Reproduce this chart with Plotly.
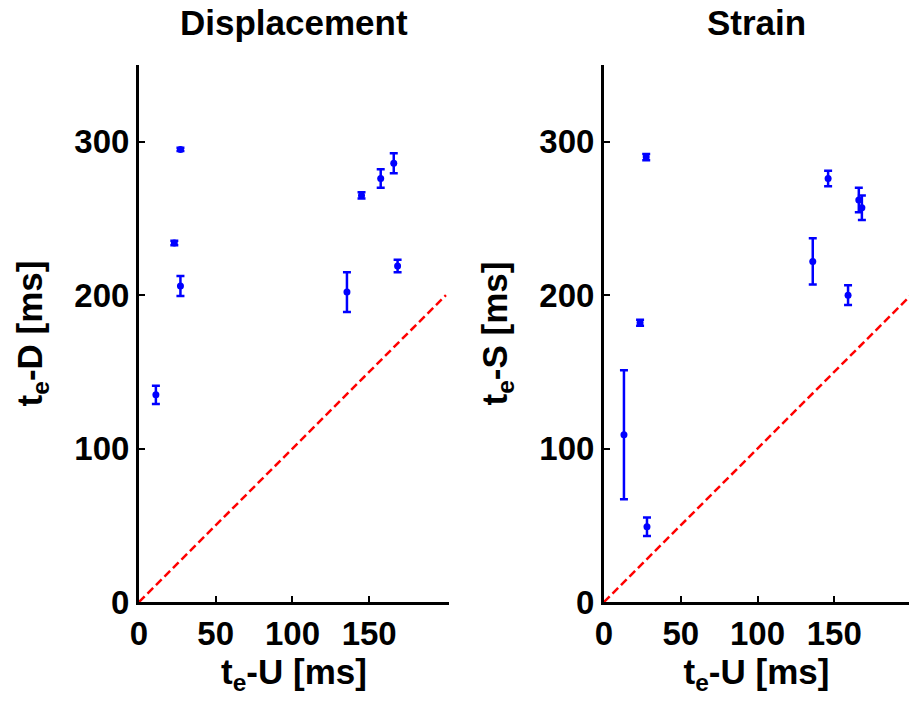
import plotly.graph_objects as go

# ---- data ----
te_U_disp = [11, 23, 27, 27, 135.5, 145, 157.5, 166, 168.5]
te_D = [135, 234, 295, 206, 202, 265, 276, 286, 219]
te_D_err = [6, 1.5, 1, 6.5, 13, 2, 6, 6.5, 4]

te_U_strain = [13, 23.5, 27.5, 28, 136, 146, 159, 166, 168]
te_S = [109, 182, 290, 49, 222, 276, 200, 262, 257]
te_S_err = [42, 2, 2, 6, 15, 5, 6.5, 8, 8]

identity_x = [0, 200]
identity_y = [0, 200]

x_ticks = [0, 50, 100, 150]
y_ticks = [0, 100, 200, 300]
titles = ["Displacement", "Strain"]

FONT = "Liberation Sans, Arial, sans-serif"
W, H = 909, 702
BLUE = "rgb(0,0,255)"
RED = "rgb(255,0,0)"

fig = go.Figure()

for i, (xs, ys, es) in enumerate([(te_U_disp, te_D, te_D_err), (te_U_strain, te_S, te_S_err)]):
    xa = "x" if i == 0 else "x2"
    ya = "y" if i == 0 else "y2"
    fig.add_trace(go.Scatter(x=identity_x, y=identity_y, mode="lines", xaxis=xa, yaxis=ya,
                             line=dict(color=RED, width=2.5, dash="8px,4px"), showlegend=False,
                             hoverinfo="skip"))
    fig.add_trace(go.Scatter(x=xs, y=ys, mode="markers", xaxis=xa, yaxis=ya,
                             marker=dict(color=BLUE, size=7),
                             error_y=dict(type="data", array=es, visible=True, color=BLUE,
                                          thickness=2.5, width=4),
                             showlegend=False))

ytop = 1 - 65 / H
ybot = 1 - 602 / H
axis_common = dict(showline=True, linecolor="black", linewidth=3, ticks="inside", ticklen=6,
                   tickwidth=2, tickcolor="black", showgrid=False, zeroline=False,
                   tickfont=dict(family=FONT, size=33, color="black", weight="bold"),
                   automargin=False)
title_font = dict(family=FONT, size=35, color="black", weight="bold")

fig.update_layout(
    width=W, height=H, margin=dict(l=0, r=0, t=0, b=0),
    paper_bgcolor="white", plot_bgcolor="white",
    xaxis=dict(domain=[139 / W, 449 / W], range=[0, 202], tickvals=x_ticks, anchor="y",
               title=dict(text="t<sub>e</sub>-U [ms]", standoff=4, font=title_font),
               **axis_common),
    yaxis=dict(domain=[ybot, ytop], range=[0, 350], tickvals=y_ticks, anchor="x",
               title=dict(text="t<sub>e</sub>-D [ms]", standoff=22, font=title_font),
               **axis_common),
    xaxis2=dict(domain=[604 / W, 1.0], range=[0, 198.7], tickvals=x_ticks, anchor="y2",
                title=dict(text="t<sub>e</sub>-U [ms]", standoff=4, font=title_font),
                **axis_common),
    yaxis2=dict(domain=[ybot, ytop], range=[0, 350], tickvals=y_ticks, anchor="x2",
                title=dict(text="t<sub>e</sub>-S [ms]", standoff=22, font=title_font),
                **axis_common),
)

centers = [(139 + 449) / 2 / W, (604 + 909) / 2 / W]
for t, cx in zip(titles, centers):
    fig.add_annotation(text="<b>%s</b>" % t, x=cx, y=1 - 22 / H, xref="paper", yref="paper",
                       showarrow=False, xanchor="center", yanchor="middle",
                       font=dict(family=FONT, size=35, color="black"))

fig.write_html("out.html")
